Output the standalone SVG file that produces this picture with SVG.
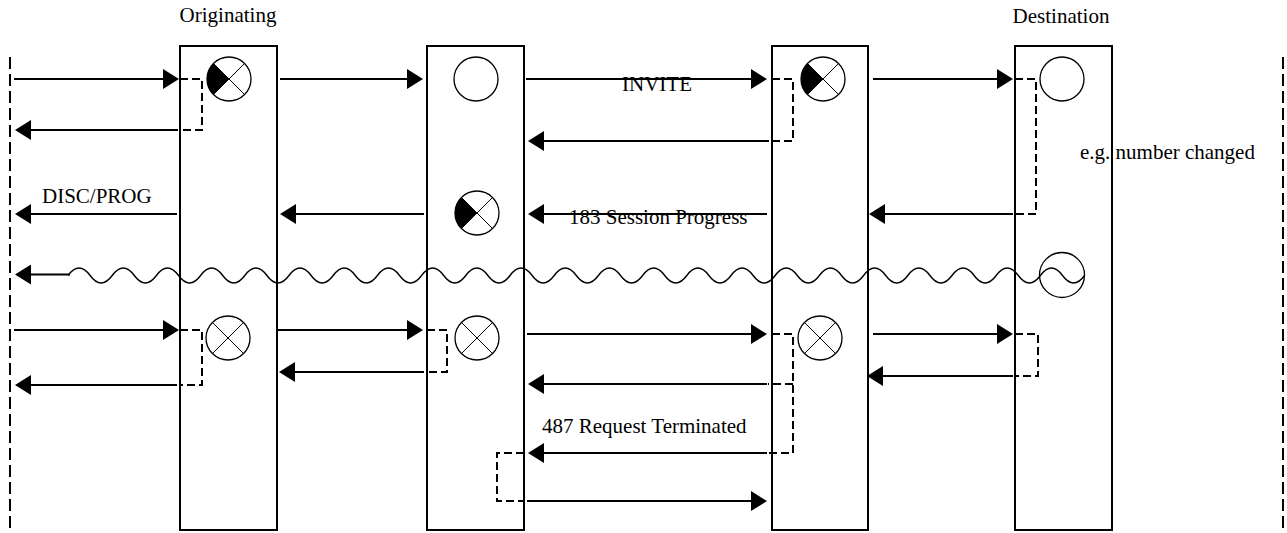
<svg xmlns="http://www.w3.org/2000/svg" width="1287" height="533" viewBox="0 0 1287 533">
<style>
.box{fill:#fff;stroke:#000;stroke-width:2}
.ln{stroke:#000;stroke-width:2;fill:none}
.dash{stroke:#000;stroke-width:2;fill:none;stroke-dasharray:8 4}
.life{stroke:#000;stroke-width:2;fill:none;stroke-dasharray:12 5}
.wave{stroke:#000;stroke-width:1.4;fill:none}
.cir{fill:#fff;stroke:#000;stroke-width:1.3}
.x{stroke:#000;stroke-width:1}
.t{font-family:"Liberation Serif","Times New Roman",serif;font-size:21px;fill:#000}
</style>
<defs>
<marker id="ah" markerWidth="16" markerHeight="20" refX="14" refY="10" orient="auto" markerUnits="userSpaceOnUse"><path d="M0,0 L16,10 L0,20 z" fill="#000"/></marker>
<g id="xc"><circle class="cir" r="22"/><line class="x" x1="-15.6" y1="-15.6" x2="15.6" y2="15.6"/><line class="x" x1="-15.6" y1="15.6" x2="15.6" y2="-15.6"/></g>
<g id="xf"><circle class="cir" r="22"/><path d="M0,0 L-15.6,-15.6 A22,22 0 0 0 -15.6,15.6 Z" fill="#000"/><line class="x" x1="-15.6" y1="-15.6" x2="15.6" y2="15.6"/><line class="x" x1="-15.6" y1="15.6" x2="15.6" y2="-15.6"/></g>
</defs>
<rect width="1287" height="533" fill="#fff"/>
<g id="lifelines">
<line class="life" x1="10" y1="57" x2="10" y2="533"/>
<line class="life" x1="1283" y1="57" x2="1283" y2="533"/>
</g>
<g id="node-originating">
<rect class="box" x="180" y="46" width="97" height="484"/>
<use href="#xf" x="229" y="79"/>
<use href="#xc" x="228" y="338"/>
<text class="t" x="228" y="22" text-anchor="middle">Originating</text>
</g>
<g id="node-2">
<rect class="box" x="427" y="46" width="97" height="484"/>
<circle class="cir" cx="476" cy="79" r="22"/>
<use href="#xf" x="477" y="213"/>
<use href="#xc" x="477" y="338"/>
</g>
<g id="node-3">
<rect class="box" x="772" y="46" width="96" height="484"/>
<use href="#xf" x="823" y="79"/>
<use href="#xc" x="820" y="338"/>
</g>
<g id="node-destination">
<rect class="box" x="1015" y="46" width="97" height="484"/>
<circle class="cir" cx="1062" cy="79" r="22"/>
<circle class="cir" cx="1062" cy="275" r="22.5"/>
<text class="t" x="1061" y="23" text-anchor="middle">Destination</text>
</g>
<g id="connectors">
<g marker-end="url(#ah)">
<line class="ln" x1="14" y1="79" x2="177" y2="79"/>
<line class="ln" x1="280" y1="79" x2="421" y2="79"/>
<line class="ln" x1="526" y1="79" x2="765" y2="79"/>
<line class="ln" x1="873" y1="79" x2="1011" y2="79"/>
<line class="ln" x1="178" y1="130" x2="17" y2="130"/>
<line class="ln" x1="769" y1="141" x2="530" y2="141"/>
<line class="ln" x1="177" y1="214" x2="17" y2="214"/>
<line class="ln" x1="424" y1="214" x2="282" y2="214"/>
<line class="ln" x1="767" y1="214" x2="530" y2="214"/>
<line class="ln" x1="1013" y1="214" x2="871" y2="214"/>
<line class="ln" x1="70" y1="274.5" x2="17" y2="274.5"/>
<line class="ln" x1="14" y1="330" x2="177" y2="330"/>
<line class="ln" x1="278" y1="330" x2="421" y2="330"/>
<line class="ln" x1="527" y1="334" x2="765" y2="334"/>
<line class="ln" x1="873" y1="334" x2="1011" y2="334"/>
<line class="ln" x1="177" y1="385" x2="17" y2="385"/>
<line class="ln" x1="424" y1="372" x2="281" y2="372"/>
<line class="ln" x1="767" y1="384" x2="530" y2="384"/>
<line class="ln" x1="1013" y1="376" x2="869" y2="376"/>
<line class="ln" x1="767" y1="453" x2="530" y2="453"/>
<line class="ln" x1="527" y1="501" x2="765" y2="501"/>
</g>
<path class="wave" d="M68 275.5 q11.05 -15 22.1 0 t22.1 0 t22.1 0 t22.1 0 t22.1 0 t22.1 0 t22.1 0 t22.1 0 t22.1 0 t22.1 0 t22.1 0 t22.1 0 t22.1 0 t22.1 0 t22.1 0 t22.1 0 t22.1 0 t22.1 0 t22.1 0 t22.1 0 t22.1 0 t22.1 0 t22.1 0 t22.1 0 t22.1 0 t22.1 0 t22.1 0 t22.1 0 t22.1 0 t22.1 0 t22.1 0 t22.1 0 t22.1 0 t22.1 0 t22.1 0 t22.1 0 t22.1 0 t22.1 0 t22.1 0 t22.1 0 t22.1 0 t22.1 0 t22.1 0 t22.1 0 t22.1 0 t22.1 0"/>
<path class="dash" d="M180 79 H202 V130 H180"/>
<path class="dash" d="M772 79 H793 V141 H772"/>
<path class="dash" d="M1015 79 H1036 V214 H1016"/>
<path class="dash" d="M180 330 H202 V385 H180"/>
<path class="dash" d="M427 330 H447 V372 H427"/>
<path class="dash" d="M772 334 H793 V453 H768"/>
<path class="dash" d="M793 384 H768"/>
<path class="dash" d="M1015 334 H1038 V376 H1015"/>
<path class="dash" d="M524 453 H497 V501 H524"/>
<text class="t" x="657" y="91" text-anchor="middle">INVITE</text>
<text class="t" x="42" y="203">DISC/PROG</text>
<text class="t" x="569" y="224">183 Session Progress</text>
<text class="t" x="1080" y="159">e.g. number changed</text>
<text class="t" x="542" y="433">487 Request Terminated</text>
</g>
</svg>
